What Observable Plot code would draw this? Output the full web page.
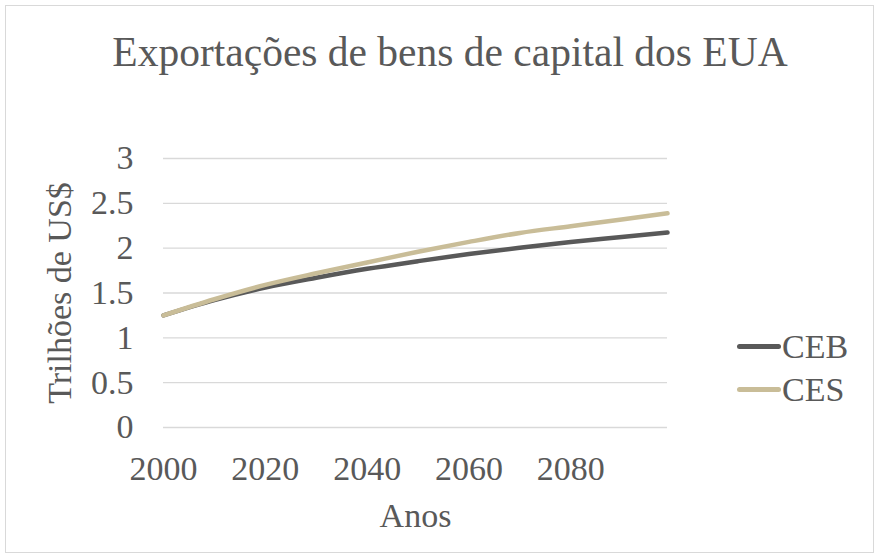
<!DOCTYPE html>
<html><head><meta charset="utf-8">
<script src="https://cdn.jsdelivr.net/npm/d3@7"></script>
<script src="https://cdn.jsdelivr.net/npm/@observablehq/plot@0.6"></script>
<style>
body{margin:0;background:#fff;}
#wrap{position:relative;width:880px;height:560px;font-family:"Liberation Serif","Times New Roman",serif;color:#595959;overflow:hidden}
#frame{position:absolute;left:5px;top:5px;width:869px;height:548px;border:1px solid #d9d9d9;box-sizing:border-box}
#title{position:absolute;left:10px;width:880px;top:32px;text-align:center;font-size:41.5px;line-height:41px;white-space:nowrap}
#chart{position:absolute;left:0;top:0}
#legend{position:absolute;left:737px;top:325px;font-size:34px}
.item{display:flex;align-items:center;height:43px}
.sw{width:44px;height:5px;border-radius:3px;margin-right:1px}
</style></head><body>
<div id="wrap"><div id="frame"></div><div id="title">Exportações de bens de capital dos EUA</div><div id="chart"></div><div id="legend"></div></div>
<script>
const years = [2000, 2010, 2020, 2030, 2040, 2050, 2060, 2070, 2080, 2090, 2099];
const ceb   = [1.25, 1.42, 1.56, 1.67, 1.77, 1.855, 1.935, 2.005, 2.07, 2.125, 2.175];
const ces   = [1.25, 1.43, 1.59, 1.72, 1.84, 1.96, 2.07, 2.17, 2.245, 2.32, 2.39];
const seriesNames = ["CEB", "CES"];
const seriesColors = ["#595959", "#c9bd98"];
const yTicks = [0, 0.5, 1, 1.5, 2, 2.5, 3];
const xTicks = [2000, 2020, 2040, 2060, 2080];

const data = years.flatMap((yr, i) => [
  {year: yr, value: ceb[i], s: "CEB"},
  {year: yr, value: ces[i], s: "CES"}
]);

const chart = Plot.plot({
  width: 880, height: 560,
  marginLeft: 163, marginRight: 213, marginTop: 158, marginBottom: 133,
  style: {fontFamily: '"Liberation Serif","Times New Roman",serif', fontSize: "34px", color: "#595959", background: "transparent", overflow: "visible"},
  x: {domain: [2000, 2099], ticks: xTicks, tickFormat: d => String(d), tickSize: 0, tickPadding: 28,
      label: "Anos", labelAnchor: "center", labelOffset: 99, labelArrow: "none"},
  y: {domain: [0, 3], ticks: yTicks, tickFormat: d => String(d), tickSize: 0, tickPadding: 30,
      label: "Trilhões de US$", labelAnchor: "center", labelOffset: 117, labelArrow: "none"},
  color: {domain: seriesNames, range: seriesColors},
  marks: [
    Plot.ruleY(yTicks, {stroke: "#d9d9d9", strokeWidth: 1.3}),
    Plot.line(data, {x: "year", y: "value", z: "s", stroke: "s", strokeWidth: 4.5, curve: "monotone-x", strokeLinecap: "round", strokeLinejoin: "round"})
  ]
});
document.getElementById("chart").appendChild(chart);

const legend = document.getElementById("legend");
seriesNames.forEach((n, i) => {
  const it = document.createElement("div");
  it.className = "item";
  const sw = document.createElement("span");
  sw.className = "sw";
  sw.style.background = seriesColors[i];
  const t = document.createElement("span");
  t.textContent = n;
  it.appendChild(sw); it.appendChild(t);
  legend.appendChild(it);
});
</script>
</body></html>
